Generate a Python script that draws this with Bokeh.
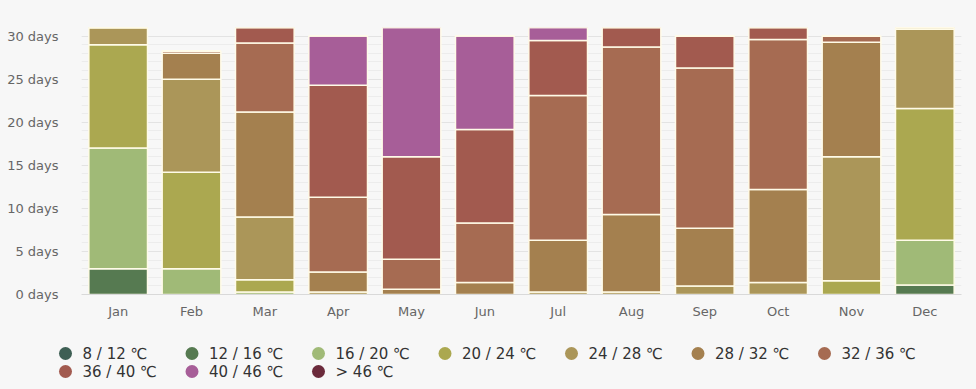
from bokeh.plotting import figure
from bokeh.models import FixedTicker, Range1d, ColumnDataSource
from bokeh.layouts import column
from bokeh.core.properties import value
from bokeh.embed import file_html
from bokeh.resources import INLINE

months = ["Jan", "Feb", "Mar", "Apr", "May", "Jun", "Jul", "Aug", "Sep", "Oct", "Nov", "Dec"]

series_labels = ["8 / 12 \u2103", "12 / 16 \u2103", "16 / 20 \u2103", "20 / 24 \u2103",
                 "24 / 28 \u2103", "28 / 32 \u2103", "32 / 36 \u2103", "36 / 40 \u2103",
                 "40 / 46 \u2103", "> 46 \u2103"]

t08_12 = [0, 0, 0, 0, 0, 0, 0, 0, 0, 0, 0, 0]
t12_16 = [3, 0, 0, 0, 0, 0, 0, 0, 0, 0, 0, 1.1]
t16_20 = [14, 3, 0.3, 0, 0, 0, 0, 0, 0, 0, 0, 5.2]
t20_24 = [12, 11.2, 1.4, 0, 0, 0, 0, 0, 0, 0, 1.6, 15.3]
t24_28 = [2, 10.8, 7.3, 0.3, 0, 0, 0.3, 0.3, 1.0, 1.4, 14.4, 9.2]
t28_32 = [0, 3, 12.2, 2.3, 0.6, 1.4, 6.0, 9.0, 6.7, 10.8, 13.3, 0.2]
t32_36 = [0, 0.25, 8.0, 8.7, 3.5, 6.9, 16.8, 19.45, 18.6, 17.4, 0.7, 0]
t36_40 = [0, 0, 1.8, 13.0, 11.9, 10.85, 6.4, 2.25, 3.7, 1.4, 0, 0]
t40_46 = [0, 0, 0, 5.7, 15.0, 10.85, 1.5, 0, 0, 0, 0, 0]
t46_up = [0, 0, 0, 0, 0, 0, 0, 0, 0, 0, 0, 0]

series_values = [t08_12, t12_16, t16_20, t20_24, t24_28, t28_32, t32_36, t36_40, t40_46, t46_up]

colors = ["#3e5f54", "#567a51", "#a0ba77", "#aba850", "#ab9659", "#a4804f",
          "#a66b52", "#a25a4f", "#a75e98", "#6b2a3b"]

y_ticks = [0, 5, 10, 15, 20, 25, 30]
y_tick_labels = ["0 days", "5 days", "10 days", "15 days", "20 days", "25 days", "30 days"]

BG = "#f7f7f7"
FONT = "DejaVu Sans"

keys = ["s%d" % i for i in range(len(series_values))]
data = {"month": months}
for k, v in zip(keys, series_values):
    data[k] = v
source = ColumnDataSource(data)

p = figure(x_range=months, y_range=Range1d(0, 31), width=976, height=333,
           output_backend="svg", toolbar_location=None, frame_align=False,
           min_border_left=81, min_border_right=15, min_border_top=27, min_border_bottom=39,
           background_fill_color=BG, border_fill_color=BG)
p.outline_line_color = None

p.vbar_stack(keys, x="month", width=0.8, source=source,
             fill_color=colors, line_color="#fffbe8", line_width=1.5)

p.yaxis.ticker = FixedTicker(ticks=y_ticks, minor_ticks=list(range(0, 32)))
p.yaxis.major_label_overrides = {t: l for t, l in zip(y_ticks, y_tick_labels)}
p.yaxis.axis_line_color = None
p.yaxis.major_tick_line_color = None
p.yaxis.minor_tick_line_color = None
p.yaxis.major_label_standoff = 17

p.xaxis.axis_line_color = "#d9d9d9"
p.xaxis.major_tick_line_color = None
p.xaxis.minor_tick_line_color = None
p.xaxis.major_label_standoff = 3

p.axis.major_label_text_font = FONT
p.axis.major_label_text_font_size = "13px"
p.axis.major_label_text_color = "#666666"

p.xgrid.grid_line_color = None
p.ygrid.grid_line_color = "#e3e3e3"
p.ygrid.minor_grid_line_color = "#ececec"

# legend drawn in its own strip
lg = figure(width=976, height=56, x_range=Range1d(0, 976), y_range=Range1d(56, 0),
            output_backend="svg", toolbar_location=None, min_border=0, frame_align=False,
            x_axis_type=None, y_axis_type=None,
            background_fill_color=BG, border_fill_color=BG)
lg.outline_line_color = None
lg.grid.visible = False

ncols = 7
lx = [65 + 126.5 * (i % ncols) for i in range(len(series_labels))]
ly = [20 + 18 * (i // ncols) for i in range(len(series_labels))]
lg.scatter(x=lx, y=ly, size=13, fill_color=colors, line_color=None)
lg.text(x=[x + 17 for x in lx], y=ly, text=series_labels, text_font=value(FONT),
        text_font_size="15px", text_baseline="middle", text_color="#333333")

layout = column(p, lg, spacing=0)
html = file_html(layout, INLINE)
html = html.replace("<head>", "<head><style>body{background:#f7f7f7;}</style>", 1)
open("out.html", "w").write(html)
